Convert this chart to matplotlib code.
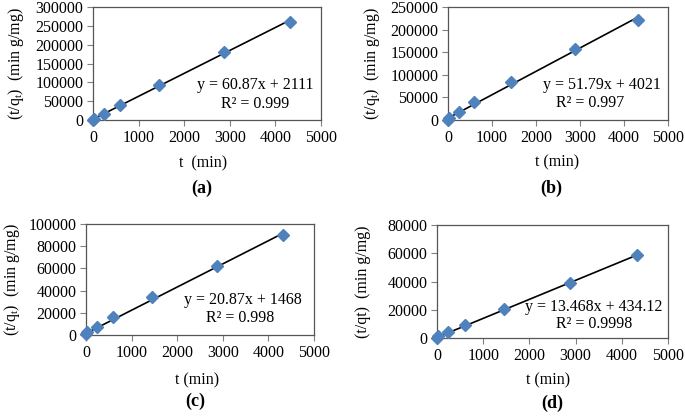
import matplotlib
matplotlib.use("Agg")
import matplotlib.pyplot as plt
import numpy as np

plt.rcParams['font.family'] = ['Liberation Serif', 'DejaVu Serif']

t = [5, 30, 240, 600, 1440, 2880, 4320]
ya = [500, 3000, 17000, 40000, 92000, 180000, 260000]
yb = [500, 4000, 18000, 39000, 85000, 158000, 222000]
yc = [500, 2500, 7500, 16000, 34000, 62000, 90000]
yd = [300, 1500, 4000, 9000, 20500, 39000, 58500]

slopes = [60.87, 51.79, 20.87, 13.468]
intercepts = [2111, 4021, 1468, 434.12]
eq_texts = ["y = 60.87x + 2111", "y = 51.79x + 4021", "y = 20.87x + 1468", "y = 13.468x + 434.12"]
r2_texts = ["R² = 0.999", "R² = 0.997", "R² = 0.998", "R² = 0.9998"]
ylabels = ["(t/q$_\\mathregular{t}$)  (min g/mg)", "(t/q$_\\mathregular{t}$)  (min g/mg)",
           "(t/q$_\\mathregular{t}$)  (min g/mg)", "(t/qt)  (min g/mg)"]
xlabels = ["t  (min)", "t (min)", "t (min)", "t (min)"]
panel_labels = ["(a)", "(b)", "(c)", "(d)"]
ymaxes = [300000, 250000, 100000, 80000]
ysteps = [50000, 50000, 20000, 20000]
xticks = [0, 1000, 2000, 3000, 4000, 5000]

W, H = 685, 416
fig = plt.figure(figsize=(W / 100, H / 100), dpi=100)

# pixel boxes: left, right, top, bottom
boxes = [(93, 321, 7, 120), (448, 668, 7, 120), (86, 314, 224, 335), (437, 668, 225, 338)]
eq_pos = [(0.71, 0.31, 0.14, 0.71), (0.70, 0.31, 0.15, 0.645), (0.69, 0.315, 0.15, 0.675), (0.68, 0.27, 0.12, 0.68)]
ylab_x = [16, 372, 12, 363]
xlab_pos = [(203, 163), (557, 162), (197, 380), (548, 380)]
plab_pos = [(202, 188), (551, 188), (195, 401), (552, 403)]

ys = [ya, yb, yc, yd]
for i in range(4):
    l, r, tp, b = boxes[i]
    ax = fig.add_axes([l / W, 1 - b / H, (r - l) / W, (b - tp) / H])
    xf = np.array([t[0], t[-1]])
    ax.plot(xf, slopes[i] * xf + intercepts[i], color='black', lw=1.2, zorder=2)
    ax.plot(t, ys[i], linestyle='none', marker='D', markersize=6.5, color='#4F81BD',
            zorder=3, clip_on=False)
    ax.set_xlim(0, 5000)
    ax.set_ylim(0, ymaxes[i])
    ax.set_xticks(xticks)
    ax.set_yticks(np.arange(0, ymaxes[i] + 1, ysteps[i]))
    ax.tick_params(direction='out', length=4, width=0.8, color='#808080', labelsize=11.5, pad=3)
    for s in ax.spines.values():
        s.set_color('#555555')
        s.set_linewidth(0.9)
    ex, ey, ry, rx = eq_pos[i]
    ax.text(ex, ey, eq_texts[i], transform=ax.transAxes, ha='center', va='center', fontsize=11.5)
    ax.text(rx, ry, r2_texts[i], transform=ax.transAxes, ha='center', va='center', fontsize=11.5)
    fig.text(ylab_x[i] / W, 1 - ((tp + b) / 2) / H, ylabels[i], rotation=90, ha='center', va='center', fontsize=11.5)
    fig.text(xlab_pos[i][0] / W, 1 - xlab_pos[i][1] / H, xlabels[i], ha='center', va='center', fontsize=11.5)
    fig.text(plab_pos[i][0] / W, 1 - plab_pos[i][1] / H, panel_labels[i], ha='center', va='center', fontsize=13, fontweight='bold')

fig.savefig('out.png', dpi=100)
